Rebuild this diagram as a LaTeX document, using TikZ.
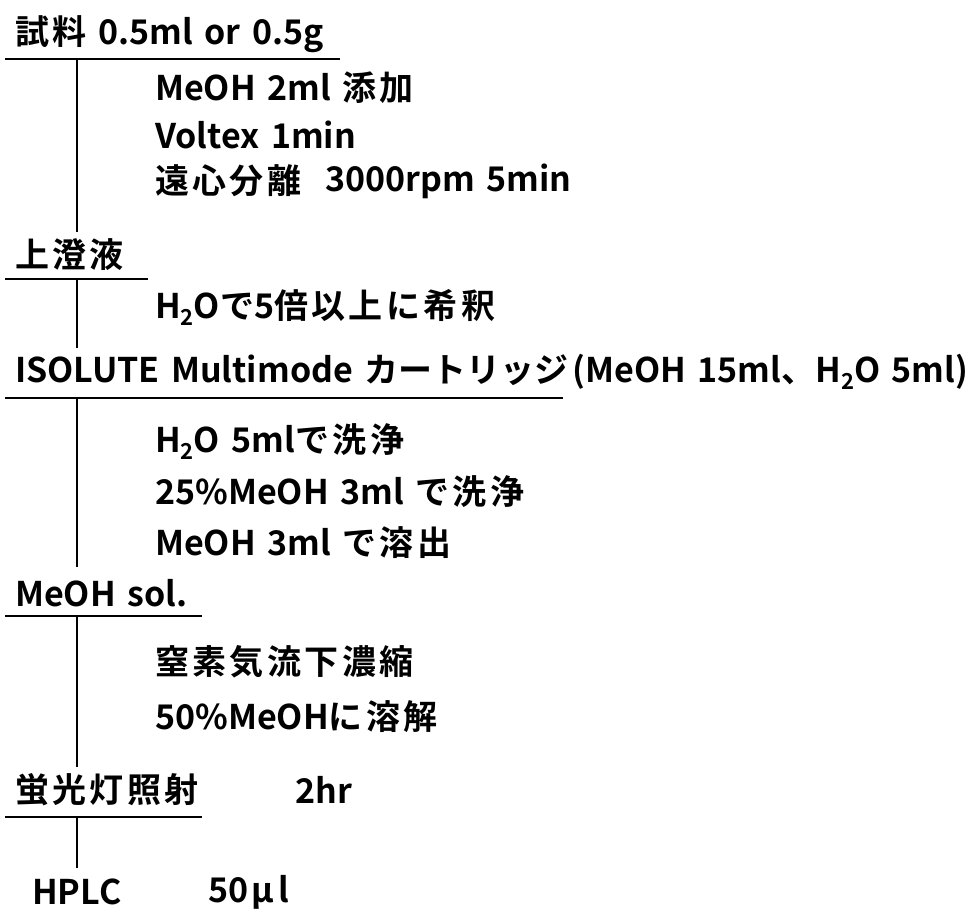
\documentclass[tikz,border=0pt]{standalone}
\usepackage{fontspec}
\setmainfont{Noto Sans CJK JP}[BoldFont={* Bold},WordSpace=1.5]
\newcommand{\subtwo}{\raisebox{-7pt}{\fontsize{22}{22}\selectfont 2}}
\newcommand{\J}[1]{{\addfontfeature{LetterSpace=10}#1}}
\begin{document}
\begin{tikzpicture}[x=1pt,y=-1pt,
  lbl/.style={anchor=west,inner sep=0pt,font=\fontsize{34}{40}\selectfont\bfseries},
  ln/.style={line width=2pt}]
\useasboundingbox (0,0) rectangle (973,911);
% main steps
\node[lbl] (s1) at (15,34) {\J{試料} 0.5ml or 0.5g};
\node[lbl] (a1) at (155,88) {MeOH 2ml \J{添加}};
\node[lbl] (a2) at (155,135) {Voltex 1min};
\node[lbl] (a3) at (155,181) {\J{遠心分離}};
\node[lbl] (a3b) at (325,181) {3000rpm 5min};
\node[lbl] (s2) at (15,255) {\J{上澄液}};
\node[lbl] (b1) at (155,307) {H\subtwo O\J{で}5\J{倍以上に希釈}};
\node[lbl] (s3) at (15,372) {ISOLUTE Multimode カートリッジ\kern4pt(MeOH 15ml、H\subtwo O 5ml)};
\node[lbl] (c1) at (155,442) {H\subtwo O 5ml\J{で洗浄}};
\node[lbl] (c2) at (155,492) {25\%MeOH 3ml \J{で洗浄}};
\node[lbl] (c3) at (155,543) {MeOH 3ml \J{で溶出}};
\node[lbl] (s4) at (15,593) {MeOH sol.};
\node[lbl] (d1) at (155,662) {\J{窒素気流下濃縮}};
\node[lbl] (d2) at (155,717) {50\%MeOH\J{に溶解}};
\node[lbl] (s5) at (15,790) {\J{蛍光灯照射}};
\node[lbl] (s5b) at (295,790) {2hr};
\node[lbl] (s6) at (32,892) {HPLC};
\node[lbl] (s6b) at (208,892) {50\kern3ptμ\kern5ptl};
% underlines
\coordinate (u1l) at (5,59);   \coordinate (u1r) at (340,59);
\coordinate (u2l) at (5,279);  \coordinate (u2r) at (148,279);
\coordinate (u3l) at (5,398);  \coordinate (u3r) at (563,398);
\coordinate (u4l) at (5,616);  \coordinate (u4r) at (202,616);
\coordinate (u5l) at (5,817);  \coordinate (u5r) at (202,817);
\draw[ln] (u1l) -- (u1r);
\draw[ln] (u2l) -- (u2r);
\draw[ln] (u3l) -- (u3r);
\draw[ln] (u4l) -- (u4r);
\draw[ln] (u5l) -- (u5r);
% vertical connectors
\coordinate (v1t) at (77,59);  \coordinate (v1b) at (77,232);
\coordinate (v2t) at (77,279); \coordinate (v2b) at (77,348);
\coordinate (v3t) at (77,398); \coordinate (v3b) at (77,567);
\coordinate (v4t) at (77,616); \coordinate (v4b) at (77,767);
\coordinate (v5t) at (77,817); \coordinate (v5b) at (77,868);
\draw[ln] (v1t) -- (v1b);
\draw[ln] (v2t) -- (v2b);
\draw[ln] (v3t) -- (v3b);
\draw[ln] (v4t) -- (v4b);
\draw[ln] (v5t) -- (v5b);
\end{tikzpicture}
\end{document}
